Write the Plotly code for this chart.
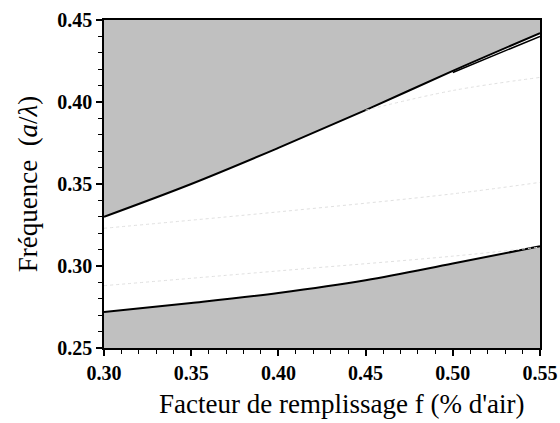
import plotly.graph_objects as go

# Filling factor (x) values
f = [0.30, 0.35, 0.40, 0.45, 0.50, 0.55]
# Upper band-gap edge (bottom of upper band)
upper_edge = [0.330, 0.350, 0.372, 0.395, 0.419, 0.442]
# Lower band-gap edge (top of lower band)
lower_edge = [0.272, 0.2775, 0.2836, 0.2913, 0.3015, 0.312]
# Second upper line near the right end
upper_edge2_f = [0.50, 0.55]
upper_edge2 = [0.418, 0.440]
# Faint bands inside the gap
faint1_f = [0.45, 0.50, 0.55]
faint1 = [0.395, 0.407, 0.415]
faint2_f = [0.30, 0.40, 0.50, 0.55]
faint2 = [0.323, 0.333, 0.344, 0.351]
faint3_f = [0.30, 0.40, 0.50, 0.55]
faint3 = [0.288, 0.297, 0.306, 0.3115]
y_top = 0.45
x_title = "Facteur de remplissage f (% d'air)"
y_title = "Fréquence  (<i>a</i>/<i>λ</i>)"

gray = "#c0c0c0"
fig = go.Figure()
fig.add_trace(go.Scatter(x=f, y=[y_top] * len(f), mode="lines",
                         line=dict(width=0, color=gray), showlegend=False))
fig.add_trace(go.Scatter(x=f, y=upper_edge, mode="lines", fill="tonexty",
                         fillcolor=gray, line=dict(color="black", width=2, shape="spline"),
                         showlegend=False))
fig.add_trace(go.Scatter(x=f, y=lower_edge, mode="lines", fill="tozeroy",
                         fillcolor=gray, line=dict(color="black", width=2, shape="spline"),
                         showlegend=False))
fig.add_trace(go.Scatter(x=upper_edge2_f, y=upper_edge2, mode="lines",
                         line=dict(color="black", width=1.5), showlegend=False))
for xs, ys in [(faint1_f, faint1), (faint2_f, faint2), (faint3_f, faint3)]:
    fig.add_trace(go.Scatter(x=xs, y=ys, mode="lines",
                             line=dict(color="#e0e0e0", width=1, dash="dot", shape="spline"),
                             showlegend=False))

serif = "Liberation Serif"
axis_common = dict(showline=True, linecolor="black", linewidth=1.5, mirror=True,
                   ticks="outside", ticklen=6, tickwidth=1.5, tickcolor="black",
                   showgrid=False, zeroline=False, automargin=False,
                   tickfont=dict(family=serif, size=20, color="black"),
                   minor=dict(ticks="outside", ticklen=4, tickwidth=1, tickcolor="black", dtick=0.01))

fig.update_xaxes(range=[0.30, 0.55], tickvals=[0.30, 0.35, 0.40, 0.45, 0.50, 0.55],
                 ticktext=["<b>0.30</b>", "<b>0.35</b>", "<b>0.40</b>", "<b>0.45</b>", "<b>0.50</b>", "<b>0.55</b>"],
                 **axis_common)
fig.update_yaxes(range=[0.25, 0.45], tickvals=[0.25, 0.30, 0.35, 0.40, 0.45],
                 ticktext=["<b>0.25</b>", "<b>0.30</b>", "<b>0.35</b>", "<b>0.40</b>", "<b>0.45</b>"],
                 title=dict(text=y_title,
                            font=dict(family=serif, size=27, color="black"), standoff=12),
                 **axis_common)

fig.add_annotation(text=x_title, xref="paper", yref="paper", x=0.545, y=-0.172,
                   xanchor="center", yanchor="middle", showarrow=False,
                   font=dict(family=serif, size=27, color="black"))

fig.update_layout(width=560, height=423, plot_bgcolor="white", paper_bgcolor="white",
                  margin=dict(l=104, r=20, t=20, b=75))
fig.write_html("out.html", config={"displayModeBar": False},
               post_script="document.body.style.margin='0';document.body.style.overflow='hidden';")
